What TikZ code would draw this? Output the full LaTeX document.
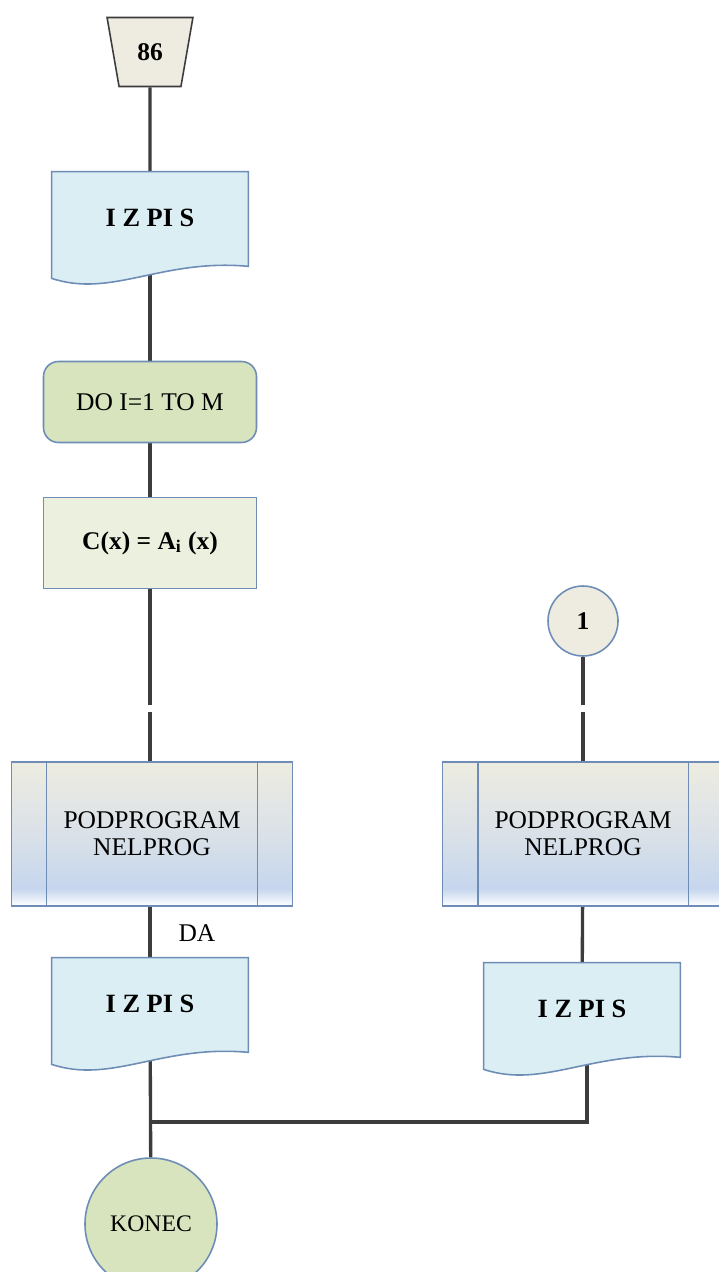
\documentclass[tikz,border=0pt]{standalone}
\usepackage{fontspec}
\setmainfont{Liberation Serif}
\usetikzlibrary{shapes.geometric}

\pgfdeclarelayer{lines}
\pgfdeclarelayer{forms}
\pgfsetlayers{lines,forms,main}

\definecolor{edgeblue}{HTML}{6E8DB6}
\definecolor{beige}{HTML}{EEECE1}
\definecolor{docblue}{HTML}{DBEEF4}
\definecolor{loopgreen}{HTML}{D7E4BD}
\definecolor{calcgreen}{HTML}{EBF1DE}
\definecolor{subblue}{HTML}{C6D6EE}
\definecolor{linegray}{HTML}{3C3C3C}

\pgfdeclareverticalshading{subshade}{100bp}{color(0bp)=(white); color(25bp)=(white);
  color(31bp)=(subblue); color(48bp)=(subblue!55!beige); color(75bp)=(beige); color(100bp)=(beige)}

\newcommand{\flowfont}{\fontsize{14.5}{15.5}\selectfont}

\tikzset{
  flow/.style={draw=linegray, line width=1.9pt},
  border/.style={draw=edgeblue, line width=0.9pt},
  inbox/.style={trapezium, shape border rotate=180, trapezium stretches=true,
    trapezium angle=76, minimum width=17.2mm, minimum height=13.8mm,
    fill=beige, draw=linegray, line width=0.9pt, font=\flowfont\bfseries},
  docbox/.style={rectangle, minimum width=39.2mm, minimum height=18.4mm,
    inner sep=0pt, font=\fontsize{15}{17}\selectfont\bfseries},
  docform/.style={border, fill=docblue},
  loopbox/.style={rectangle, rounded corners=3mm, border, fill=loopgreen,
    minimum width=42.6mm, minimum height=16.2mm, font=\flowfont},
  calcbox/.style={rectangle, border, fill=calcgreen,
    minimum width=42.6mm, minimum height=18.2mm, font=\flowfont\bfseries},
  subbox/.style={rectangle, border, shade, shading=subshade,
    minimum width=56.2mm, minimum height=28.8mm, align=center, font=\flowfont},
  conncircle/.style={circle, border, fill=beige, minimum size=14mm,
    inner sep=0pt, font=\flowfont\bfseries},
  endcircle/.style={circle, border, fill=loopgreen, minimum size=26.4mm,
    inner sep=0pt, font=\fontsize{13.5}{15}\selectfont}
}

\begin{document}
\begin{tikzpicture}[x=0.2mm, y=-0.2mm]
\useasboundingbox (0,0) rectangle (718,1272);

% left column
\node[inbox] (start) at (150,52) {86};
\node[docbox] (izpis1) at (150,218) {I Z PI S};
\node[loopbox] (doloop) at (150,402) {DO I=1 TO M};
\node[calcbox] (cx) at (150,543) {C(x) = A\textsubscript{i} (x)};
\node[subbox] (podL) at (152,834) {PODPROGRAM\\NELPROG};
\node[font=\flowfont] (da) at (197,933) {DA};
\node[docbox] (izpis2) at (150,1004) {I Z PI S};
\node[endcircle] (konec) at (151,1224) {KONEC};

% right column
\node[conncircle] (conn1) at (583,621) {1};
\node[subbox] (podR) at (583,834) {PODPROGRAM\\NELPROG};
\node[docbox] (izpis3) at (582,1009) {I Z PI S};

\coordinate (gapL1) at (150,705);
\coordinate (gapL2) at (150,712);
\coordinate (gapR1) at (583,705);
\coordinate (gapR2) at (583,712);
\coordinate (joinR) at (587,1122);

% document shapes
\begin{pgfonlayer}{forms}
  \foreach \d in {izpis1, izpis2, izpis3} {%
    \filldraw[docform] (\d.north west) -- (\d.north east)
      -- ([yshift=-0.4mm]\d.south east)
      .. controls ([xshift=22mm,yshift=1.2mm]\d.south west)
         and ([xshift=12mm,yshift=-6.8mm]\d.south west)
      .. ([yshift=-2.8mm]\d.south west) -- cycle;
  }
\end{pgfonlayer}

% side bars of the subprogram boxes
\foreach \p in {podL, podR} {%
  \draw[border] ([xshift=7.2mm]\p.north west) -- ([xshift=7.2mm]\p.south west);
  \draw[border] ([xshift=-7.2mm]\p.north east) -- ([xshift=-7.2mm]\p.south east);
}

% connectors
\begin{pgfonlayer}{lines}
  \draw[flow] (start) -- (izpis1);
  \draw[flow] (izpis1) -- (doloop);
  \draw[flow] (doloop) -- (cx);
  \draw[flow] (cx) -- (gapL1);
  \draw[flow] (gapL2) -- (podL.north -| gapL2);
  \draw[flow] (podL.south -| izpis2) -- (izpis2);
  \draw[flow] (izpis2) -- (konec);
  \draw[flow] (conn1) -- (gapR1);
  \draw[flow] (gapR2) -- (podR);
  \draw[flow] (podR) -- (izpis3);
  \draw[flow] (izpis3.south -| joinR) -- (joinR) -- (joinR -| izpis2);
\end{pgfonlayer}
\end{tikzpicture}
\end{document}
